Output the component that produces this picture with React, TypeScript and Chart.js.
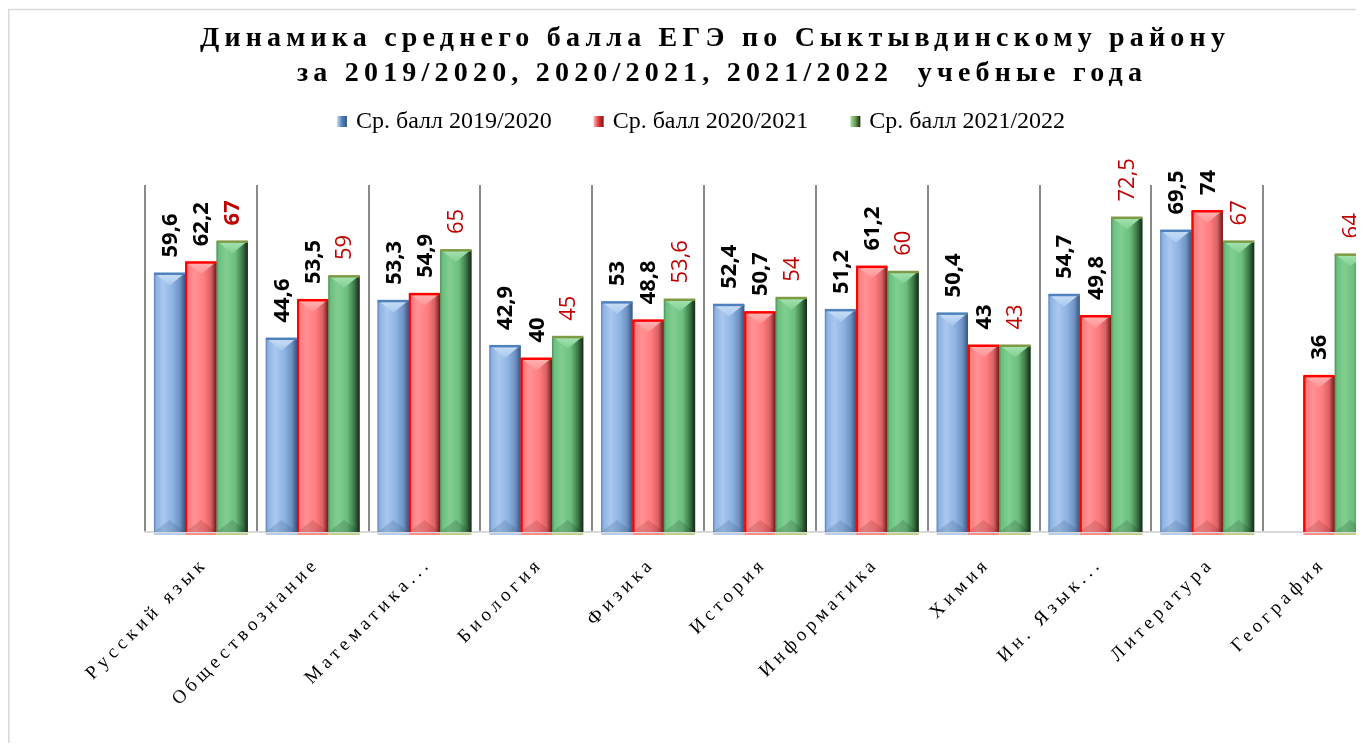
import React, { useEffect, useRef } from "react";
import { Chart, registerables } from "chart.js";

Chart.register(...registerables);

// ---------- data ----------
const categories = [
  "Русский язык",
  "Обществознание",
  "Математика...",
  "Биология",
  "Физика",
  "История",
  "Информатика",
  "Химия",
  "Ин. Язык...",
  "Литература",
  "География",
];
const scores2019_2020 = [59.6, 44.6, 53.3, 42.9, 53, 52.4, 51.2, 50.4, 54.7, 69.5, null];
const scores2020_2021 = [62.2, 53.5, 54.9, 40, 48.8, 50.7, 61.2, 43, 49.8, 74, 36];
const scores2021_2022 = [67, 59, 65, 45, 53.6, 54, 60, 43, 72.5, 67, 64];
const seriesNames = ["Ср. балл 2019/2020", "Ср. балл 2020/2021", "Ср. балл 2021/2022"];
const titleLines = [
  "Динамика среднего балла ЕГЭ по Сыктывдинскому району",
  "за 2019/2020, 2020/2021, 2021/2022  учебные года",
];
const yMin = 0;
const yMax = 80;

// ---------- styles ----------
const barStyles = [
  { base: "#8DB3E2", hi: "#A9C8EE", light: "#C9DEF6", dark: "#6F93C4", edgeL: "#5A80B4", edgeR: "#34557F", top: "#4F81BD", shadow: "rgba(40,70,110,0.18)", under: "#B8CDEA", leftLine: false, legend: "#4F81BD" },
  { base: "#FF7B7E", hi: "#FF9294", light: "#FFB3B4", dark: "#D96264", edgeL: "#C00000", edgeR: "#6E1515", top: "#FF0000", shadow: "rgba(110,30,30,0.18)", under: "#FF8A8A", leftLine: true, legend: "#E03A3A" },
  { base: "#6CBF7E", hi: "#80CF91", light: "#A6E3B0", dark: "#3F7A4B", edgeL: "#4E8C5A", edgeR: "#142814", top: "#7E9A45", shadow: "rgba(20,50,20,0.18)", under: "#BFD08E", leftLine: false, legend: "#6E9A4E" },
];
const labelColors = ["#000000", "#000000", "#C00000"];
const boldRedIndex = 0;

const fmt = (v: number) => String(v).replace(".", ",");

const drawPlugin = {
  id: "customDraw",
  beforeDraw(chart: any) {
    const ctx = chart.ctx;
    ctx.save();
    ctx.strokeStyle = "#D9D9D9";
    ctx.lineWidth = 1.6;
    ctx.beginPath();
    ctx.moveTo(0.8, chart.height + 5);
    ctx.lineTo(0.8, 1.5);
    ctx.lineTo(chart.width + 5, 1.5);
    ctx.stroke();
    ctx.restore();
  },
  afterDatasetsDraw(chart: any) {
    const ctx = chart.ctx;
    // bevelled bars
    chart.data.datasets.forEach((ds: any, di: number) => {
      const meta = chart.getDatasetMeta(di);
      const st = barStyles[di];
      meta.data.forEach((el: any, i: number) => {
        const v = ds.data[i];
        if (v == null) return;
        const p = el.getProps(["x", "y", "base", "width"], true);
        const l = p.x - p.width / 2;
        const r = p.x + p.width / 2;
        const top = p.y;
        const bot = p.base;
        const h = bot - top;
        ctx.save();
        const g = ctx.createLinearGradient(l, 0, r, 0);
        g.addColorStop(0, st.edgeL);
        g.addColorStop(0.07, st.base);
        g.addColorStop(0.3, st.hi);
        g.addColorStop(0.6, st.base);
        g.addColorStop(0.82, st.dark);
        g.addColorStop(1, st.edgeR);
        ctx.fillStyle = g;
        ctx.fillRect(l, top, r - l, h);
        const b = Math.min(12, h / 2);
        const tg = ctx.createLinearGradient(0, top, 0, top + b);
        tg.addColorStop(0, st.light);
        tg.addColorStop(1, st.hi);
        ctx.fillStyle = tg;
        ctx.beginPath();
        ctx.moveTo(l + 1, top);
        ctx.lineTo(r - 1, top);
        ctx.lineTo(p.x, top + b);
        ctx.closePath();
        ctx.fill();
        ctx.fillStyle = st.shadow;
        ctx.beginPath();
        ctx.moveTo(l, bot);
        ctx.lineTo(r, bot);
        ctx.lineTo(p.x, bot - b);
        ctx.closePath();
        ctx.fill();
        ctx.fillStyle = st.top;
        ctx.fillRect(l, top - 1, r - l, 2.5);
        if (st.leftLine) ctx.fillRect(l, top, 2, h);
        ctx.fillStyle = st.under;
        ctx.fillRect(l, bot + 1, r - l, 2);
        ctx.restore();
      });
    });
    // value labels
    chart.data.datasets.forEach((ds: any, di: number) => {
      const meta = chart.getDatasetMeta(di);
      meta.data.forEach((el: any, i: number) => {
        const v = ds.data[i];
        if (v == null) return;
        const p = el.getProps(["x", "y"], true);
        const bold = di < 2 || i === boldRedIndex;
        ctx.save();
        ctx.font = `${bold ? "bold " : ""}22px "Open Sans"`;
        ctx.fillStyle = labelColors[di];
        ctx.translate(p.x + 1, p.y - 16);
        ctx.rotate(-Math.PI / 2);
        ctx.textAlign = "left";
        ctx.textBaseline = "middle";
        ctx.fillText(fmt(v), 0, 0);
        ctx.restore();
      });
    });
  },
  afterDraw(chart: any) {
    const ctx = chart.ctx;
    const xs = chart.scales.x;
    const area = chart.chartArea;
    // category labels
    ctx.save();
    ctx.font = '19px "Liberation Serif"';
    ctx.fillStyle = "#000000";
    (ctx as any).letterSpacing = "4.5px";
    categories.forEach((c, i) => {
      const x = xs.getPixelForValue(i);
      ctx.save();
      ctx.translate(x + 4, area.bottom + 29);
      ctx.rotate(-Math.PI / 4);
      ctx.textAlign = "right";
      ctx.textBaseline = "middle";
      ctx.fillText(c, 0, 0);
      ctx.restore();
    });
    ctx.restore();
    // title
    ctx.save();
    ctx.font = 'bold 28px "Liberation Serif"';
    ctx.fillStyle = "#000000";
    (ctx as any).letterSpacing = "5.2px";
    ctx.textAlign = "center";
    ctx.textBaseline = "alphabetic";
    ctx.fillText(titleLines[0], 707, 38);
    ctx.fillText(titleLines[1], 714, 73);
    ctx.restore();
    // legend
    ctx.save();
    ctx.font = '24px "Liberation Serif"';
    ctx.textBaseline = "middle";
    ctx.textAlign = "left";
    const box = 10;
    const gapText = 9;
    const gapItem = 42;
    const widths = seriesNames.map((n) => ctx.measureText(n).width);
    const total = widths.reduce((a, w) => a + box + gapText + w, 0) + gapItem * (seriesNames.length - 1);
    let lx = 693 - total / 2;
    const ly = 113;
    seriesNames.forEach((n, i) => {
      const st = barStyles[i];
      const g = ctx.createLinearGradient(lx, 0, lx + box, 0);
      g.addColorStop(0, st.light);
      g.addColorStop(0.5, st.legend);
      g.addColorStop(1, st.edgeR);
      ctx.fillStyle = g;
      ctx.fillRect(lx, ly - box / 2, box, box + 1);
      ctx.fillStyle = "#000000";
      ctx.fillText(n, lx + box + gapText, ly + 1);
      lx += box + gapText + widths[i] + gapItem;
    });
    ctx.restore();
  },
};

export default function App() {
  const ref = useRef<HTMLCanvasElement | null>(null);
  useEffect(() => {
    if (!ref.current) return;
    const chart = new Chart(ref.current, {
      type: "bar",
      data: {
        labels: categories,
        datasets: [
          { label: seriesNames[0], data: scores2019_2020 as any, backgroundColor: barStyles[0].base, borderWidth: 0 },
          { label: seriesNames[1], data: scores2020_2021 as any, backgroundColor: barStyles[1].base, borderWidth: 0 },
          { label: seriesNames[2], data: scores2021_2022 as any, backgroundColor: barStyles[2].base, borderWidth: 0 },
        ],
      },
      options: {
        animation: false,
        responsive: false,
        maintainAspectRatio: false,
        layout: { padding: { left: 137, right: 43, top: 177, bottom: 219 } },
        datasets: { bar: { categoryPercentage: 0.84, barPercentage: 1 } } as any,
        plugins: {
          legend: { display: false },
          title: { display: false },
          tooltip: { enabled: false },
        },
        scales: {
          x: {
            grid: { display: true, offset: true, color: "#8A8A8A", lineWidth: 2, drawTicks: false },
            border: { display: true, color: "#D9D9D9", width: 2 },
            ticks: { display: false },
            afterFit: (s: any) => {
              s.height = 0;
            },
          } as any,
          y: { display: false, min: yMin, max: yMax },
        },
      },
      plugins: [drawPlugin],
    });
    return () => chart.destroy();
  }, []);
  return (
    <div style={{ width: 1348, height: 735, overflow: "hidden", position: "relative" }}>
      <canvas ref={ref} width={1410} height={743} style={{ display: "block", width: 1410, height: 743 }} />
    </div>
  );
}
